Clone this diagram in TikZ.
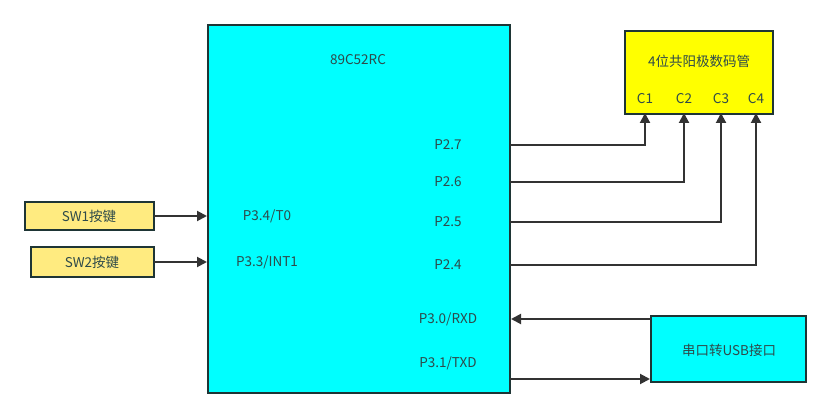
\documentclass[tikz,border=0pt]{standalone}
\usepackage{fontspec}
\setmainfont{Noto Sans CJK SC}
\usetikzlibrary{arrows.meta}
\definecolor{cyanfill}{HTML}{00FFFF}
\definecolor{yelfill}{HTML}{FFFF00}
\definecolor{swfill}{HTML}{FFEB80}
\definecolor{edge}{HTML}{1E3535}
\definecolor{txt}{HTML}{2E4A4A}
\definecolor{wire}{HTML}{333333}
\begin{document}
\begin{tikzpicture}[x=1pt,y=-1pt,
  box/.style={draw=edge,line width=2pt},
  lbl/.style={text=txt,font=\fontsize{13.5}{16}\selectfont,inner sep=0pt},
  wirestyle/.style={draw=wire,line width=2pt,-{Triangle[length=10pt,width=10pt]}}]
\useasboundingbox (0,0) rectangle (832,419);
% boxes
\draw[box,fill=cyanfill] (208,25) rectangle (510,393);
\node[lbl] (mcu) at (358,60) {89C52RC};
\draw[box,fill=yelfill] (625,31) rectangle (773,114);
\node[lbl] (disp) at (699,61) {4位共阳极数码管};
\draw[box,fill=swfill] (25,202) rectangle (154,230);
\node[lbl] (sw1) at (89,216) {SW1按键};
\draw[box,fill=swfill] (31,247) rectangle (154,277);
\node[lbl] (sw2) at (92,262) {SW2按键};
\draw[box,fill=cyanfill] (651,316) rectangle (806,382);
\node[lbl] (usb) at (729,350) {串口转USB接口};
% pin labels
\node[lbl] (p27) at (448,145) {P2.7};
\node[lbl] (p26) at (448,182) {P2.6};
\node[lbl] (p25) at (448,222) {P2.5};
\node[lbl] (p24) at (448,265) {P2.4};
\node[lbl] (p30) at (448,319) {P3.0/RXD};
\node[lbl] (p31) at (448,363) {P3.1/TXD};
\node[lbl] (p34) at (267,216) {P3.4/T0};
\node[lbl] (p33) at (267,262) {P3.3/INT1};
\node[lbl] (c1) at (645,99) {C1};
\node[lbl] (c2) at (684,99) {C2};
\node[lbl] (c3) at (721,99) {C3};
\node[lbl] (c4) at (756,99) {C4};
% connection coordinates
\coordinate (m27) at (510,145);
\coordinate (m26) at (510,182);
\coordinate (m25) at (510,222);
\coordinate (m24) at (510,265);
\coordinate (t1) at (645,113);
\coordinate (t2) at (684,113);
\coordinate (t3) at (721,113);
\coordinate (t4) at (756,113);
\coordinate (sw1r) at (154,216);
\coordinate (sw2r) at (154,262);
\coordinate (m34) at (207,216);
\coordinate (m33) at (207,262);
\coordinate (rxdm) at (511,319);
\coordinate (rxdu) at (651,319);
\coordinate (txdm) at (510,379);
\coordinate (txdu) at (650,379);
% wires
\draw[wirestyle] (m27) -| (t1);
\draw[wirestyle] (m26) -| (t2);
\draw[wirestyle] (m25) -| (t3);
\draw[wirestyle] (m24) -| (t4);
\draw[wirestyle] (sw1r) -- (m34);
\draw[wirestyle] (sw2r) -- (m33);
\draw[wirestyle] (rxdu) -- (rxdm);
\draw[wirestyle] (txdm) -- (txdu);
\end{tikzpicture}
\end{document}
